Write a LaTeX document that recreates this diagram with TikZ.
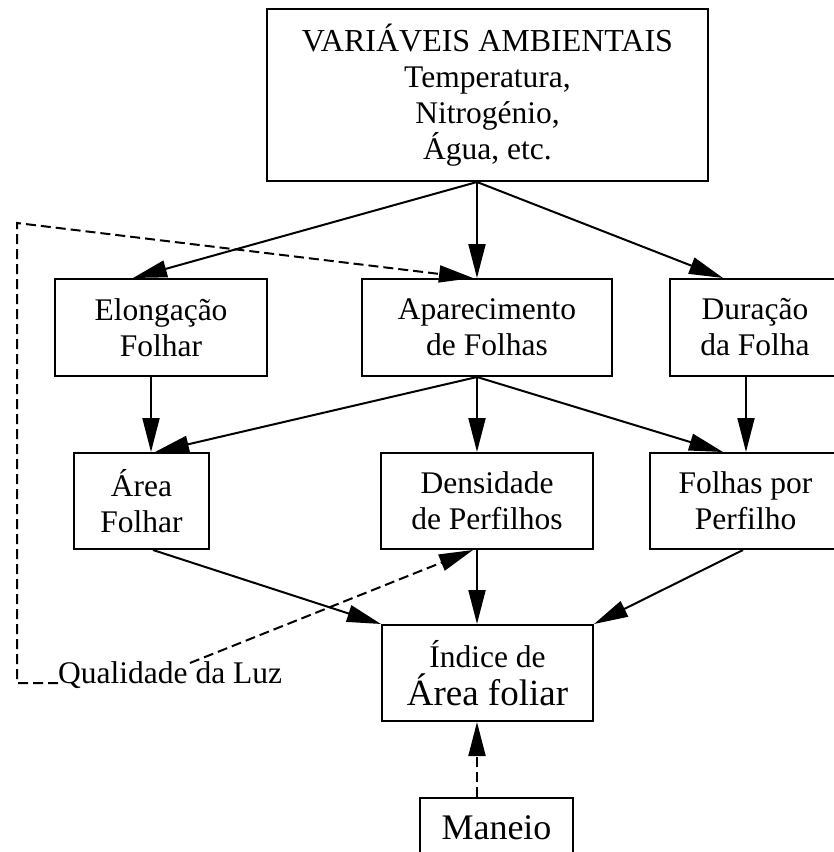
\documentclass[tikz,border=0pt]{standalone}
\usepackage{fontspec}
\setmainfont{Liberation Serif}
\usetikzlibrary{arrows.meta,calc}
\begin{document}
\begin{tikzpicture}[x=1pt,y=-1pt,
  box/.style={draw, line width=2pt, inner sep=0pt, align=center, font=\fontsize{31.5}{36}\selectfont},
  arr/.style={line width=2pt, -{Triangle[length=34pt,width=17pt]}},
  dsh/.style={arr, dash pattern=on 10pt off 5pt}]
\useasboundingbox (0,0) rectangle (834,852);
\clip (0,0) rectangle (834,852);
% boxes
\node[box, minimum width=441pt, minimum height=172pt] (amb) at (487.5,95)
  {{\fontsize{32}{36}\selectfont VARIÁVEIS AMBIENTAIS}\\Temperatura,\\Nitrogénio,\\Água, etc.};
\node[box, minimum width=212pt, minimum height=97pt] (elong) at (161,327.5) {Elongação\\Folhar};
\node[box, minimum width=250pt, minimum height=97pt] (apar) at (487,327.5) {Aparecimento\\de Folhas};
\node[box, minimum width=170pt, minimum height=97pt] (dur) at (755,327.5) {Duração\\da Folha};
\node[box, minimum width=135pt, minimum height=96pt] (area) at (141.5,501) {Área\\Folhar};
\node[box, minimum width=212pt, minimum height=96pt] (dens) at (487,501) {Densidade\\de Perfilhos};
\node[box, minimum width=191pt, minimum height=96pt] (fpp) at (745.5,501) {Folhas por\\Perfilho};
\node[box, minimum width=211pt, minimum height=96pt, font=\fontsize{31.5}{38}\selectfont] (iaf) at (487.5,673)
  {Índice de\\{\fontsize{37}{38}\selectfont Área foliar}};
\node[box, minimum width=153pt, minimum height=60pt, font=\fontsize{36}{40}\selectfont] (man) at (496.5,828) {Maneio};
\node[anchor=base west, inner sep=0pt, font=\fontsize{31.5}{36}\selectfont] (luz) at (58,683) {Qualidade da Luz};
\coordinate (c1) at (17,683);
\coordinate (c2) at (17,223);
% connectors
\draw[arr] ($(amb.south)+(-10.5,0)$) -- ($(elong.north)+(-28,0)$);
\draw[arr] ($(amb.south)+(-10.5,0)$) -- ($(apar.north)+(-10,0)$);
\draw[arr] ($(amb.south)+(-10.5,0)$) -- ($(dur.north)+(-32,0)$);
\draw[dsh] (luz.base west) -- (c1) -- (c2) -- ($(apar.north)+(-14,0)$);
\draw[arr] ($(elong.south)+(-10,0)$) -- ($(area.north)+(9.5,0)$);
\draw[arr] ($(apar.south)+(-10,0)$) -- ($(area.north)+(13.5,0)$);
\draw[arr] ($(apar.south)+(-10,0)$) -- ($(dens.north)+(-10,0)$);
\draw[arr] ($(apar.south)+(-10,0)$) -- ($(fpp.north)+(-22.5,0)$);
\draw[arr] ($(dur.south)+(-9,0)$) -- ($(fpp.north)+(0.5,0)$);
\draw[arr] ($(area.south)+(11.5,0)$) -- (iaf.north west);
\draw[arr] ($(dens.south)+(-10,0)$) -- ($(iaf.north)+(-10.5,0)$);
\draw[arr] ($(fpp.south)+(-2.5,0)$) -- (iaf.north east);
\draw[dsh] ($(luz.base west)+(132,-20)$) -- ($(dens.south)+(-14,0)$);
\draw[dsh] ($(man.north)+(-19.5,0)$) -- ($(iaf.south)+(-10.5,0)$);
\end{tikzpicture}
\end{document}
